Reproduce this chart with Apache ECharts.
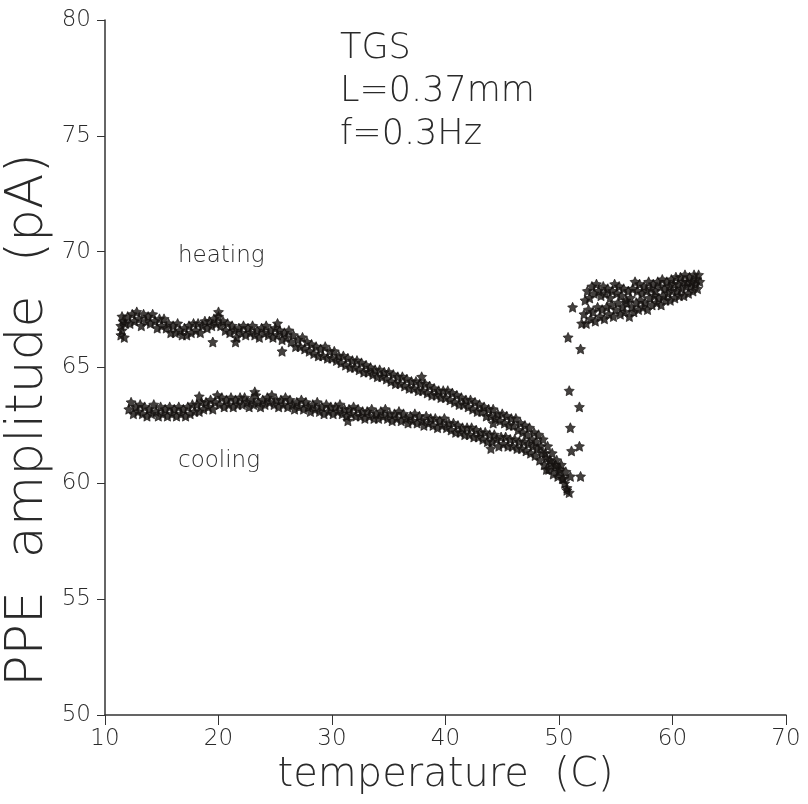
<!DOCTYPE html>
<html style="height: 100%">
<head>
    <meta charset="utf-8">
    <title>TGS PPE amplitude</title>
    <script src="https://cdn.jsdelivr.net/npm/echarts@6/dist/echarts.min.js"></script>
</head>
<body style="height: 100%; margin: 0; background: #fff">
    <div id="container" style="width: 808px; height: 804px"></div>
    <script type="text/javascript">
        // axis ticks
        var xTicks = [10, 20, 30, 40, 50, 60, 70];
        var yTicks = [50, 55, 60, 65, 70, 75, 80];

        // heating run: [temperature C, PPE amplitude pA]
        var heatingBelow = [
            [11.4,66.4],[11.4,66.8],[11.5,67.2],[11.5,66.6],[11.6,67.0],[11.7,66.3],[11.8,66.9],
            [12.0,67.2],[12.2,66.9],[12.4,67.3],[12.6,67.0],[12.8,67.4],[13.0,67.1],[13.2,66.8],[13.4,67.3],
            [13.6,67.0],[13.8,67.2],[14.0,66.9],[14.2,67.3],[14.4,67.0],[14.6,66.7],[14.8,67.1],[15.0,66.8],
            [15.2,67.1],[15.4,66.7],[15.6,66.9],[15.8,66.5],[16.0,66.8],[16.2,66.5],[16.4,66.9],[16.6,66.6],
            [16.8,66.4],[17.0,66.7],[17.2,66.4],[17.4,66.8],[17.6,66.5],[17.8,66.9],[18.0,66.6],[18.2,66.9],
            [18.4,66.5],[18.6,66.8],[18.8,67.0],[19.0,66.7],[19.2,67.0],[19.4,66.8],[19.6,67.1],[19.8,66.9],
            [20.0,67.2],[20.2,66.8],[20.4,67.0],[20.6,66.6],[20.8,66.9],[21.0,66.5],[21.2,66.8],[21.4,66.6],
            [21.6,66.3],[21.8,66.7],[22.0,66.5],[22.2,66.8],[22.4,66.4],[22.6,66.7],[22.8,66.5],[23.0,66.8],
            [23.2,66.4],[23.4,66.6],[23.6,66.3],[23.8,66.7],[24.0,66.5],[24.2,66.8],[24.4,66.4],[24.6,66.6],
            [24.8,66.3],[25.0,66.7],[25.2,66.4],[25.4,66.6],[25.6,66.2],[25.8,66.5],[26.0,66.3],[26.2,66.6],
            [26.4,66.1],[26.6,66.4],[26.8,65.9],[27.0,66.2],[27.2,65.9],[27.4,66.3],[27.6,65.8],[27.8,66.1],
            [28.0,65.7],[28.2,66.0],[28.4,65.6],[28.6,65.9],[28.8,65.5],[29.0,65.8],[29.2,65.5],[29.4,65.9],
            [29.6,65.4],[29.8,65.7],[30.0,65.4],[30.2,65.7],[30.4,65.3],[30.6,65.5],[30.8,65.2],[31.0,65.5],
            [31.2,65.1],[31.4,65.4],[31.6,65.0],[31.8,65.3],[32.0,65.0],[32.2,65.3],[32.4,64.9],[32.6,65.2],
            [32.8,64.8],[33.0,65.1],[33.2,64.8],[33.4,65.0],[33.6,64.7],[33.8,64.9],[34.0,64.6],[34.2,64.9],
            [34.4,64.6],[34.6,64.8],[34.8,64.5],[35.0,64.8],[35.2,64.4],[35.4,64.7],[35.6,64.3],[35.8,64.6],
            [36.0,64.3],[36.2,64.6],[36.4,64.2],[36.6,64.5],[36.8,64.1],[37.0,64.4],[37.2,64.1],[37.4,64.4],
            [37.6,64.0],[37.8,64.3],[38.0,64.0],[38.2,64.3],[38.4,63.9],[38.6,64.2],[38.8,63.8],[39.0,64.1],
            [39.2,63.8],[39.4,64.0],[39.6,63.7],[39.8,64.0],[40.0,63.7],[40.2,64.0],[40.4,63.6],[40.6,63.9],
            [40.8,63.5],[41.0,63.8],[41.2,63.4],[41.4,63.7],[41.6,63.4],[41.8,63.6],[42.0,63.3],[42.2,63.6],
            [42.4,63.2],[42.6,63.5],[42.8,63.1],[43.0,63.4],[43.2,63.1],[43.4,63.3],[43.6,62.9],[43.8,63.2],
            [44.0,62.9],[44.2,63.2],[44.4,62.8],[44.6,63.0],[44.8,62.7],[45.0,63.0],[45.2,62.6],[45.4,62.9],
            [45.6,62.5],[45.8,62.8],[46.0,62.5],[46.2,62.8],[46.4,62.3],[46.6,62.6],[46.8,62.2],[47.0,62.5],
            [47.2,62.1],[47.4,62.4],[47.6,61.9],[47.8,62.2],[48.0,61.8],[48.2,62.1],[48.4,61.6],[48.6,61.9],
            [48.8,61.3],[49.0,61.6],[49.2,61.0],[49.4,61.3],[49.6,60.7],[49.8,61.0],[50.0,60.5],[50.2,60.8],
            [50.4,60.2],[50.6,60.5],
            // stray readings off the band
            [19.5,66.1],[21.5,66.1],[25.6,65.7],[20.0,67.4],[25.2,66.9],[37.9,64.6],[44.2,62.6]
        ];
        var heatingJump = [
            [50.7,59.8],[50.9,59.6],[51.0,60.3],[51.1,61.4],[51.0,62.4],[50.9,64.0],[50.8,66.3],[51.2,67.6]
        ];
        var heatingAbove = [
            [52.2,67.3],[52.4,66.9],[52.6,67.5],[52.8,67.1],[53.0,67.4],[53.2,67.0],[53.4,67.6],[53.6,67.2],
            [53.8,67.5],[54.0,67.1],[54.2,67.6],[54.4,67.3],[54.6,67.7],[54.8,67.2],[55.0,67.5],[55.2,67.8],
            [55.4,67.3],[55.6,67.6],[55.8,67.4],[56.0,67.8],[56.2,67.2],[56.4,67.6],[56.6,67.4],[56.8,67.8],
            [57.0,67.5],[57.2,67.9],[57.4,67.6],[57.6,67.8],[57.8,67.5],[58.0,68.0],[58.2,67.7],[58.4,68.1],
            [58.6,67.8],[58.8,68.0],[59.0,67.7],[59.2,68.1],[59.4,67.9],[59.6,68.2],[59.8,67.9],[60.0,68.3],
            [60.2,68.0],[60.4,68.3],[60.6,68.1],[60.8,68.4],[61.0,68.1],[61.2,68.5],[61.4,68.2],[61.6,68.5],
            [61.8,68.3],[62.0,68.6],[62.2,68.4],[62.4,68.7]
        ];

        // cooling run
        var coolingBelow = [
            [12.1,63.2],[12.3,63.5],[12.5,63.0],[12.7,63.3],[12.9,63.1],[13.1,63.4],[13.3,63.0],[13.5,63.3],
            [13.7,62.9],[13.9,63.2],[14.1,63.0],[14.3,63.4],[14.5,63.1],[14.7,62.9],[14.9,63.3],[15.1,63.0],
            [15.3,63.2],[15.5,62.9],[15.7,63.3],[15.9,63.0],[16.1,63.2],[16.3,62.9],[16.5,63.3],[16.7,63.0],
            [16.9,63.2],[17.1,62.9],[17.3,63.3],[17.5,63.0],[17.7,63.4],[17.9,63.1],[18.1,63.4],[18.3,63.1],
            [18.5,63.5],[18.7,63.2],[18.9,63.5],[19.1,63.3],[19.3,63.6],[19.5,63.2],[19.7,63.5],[19.9,63.8],
            [20.1,63.4],[20.3,63.7],[20.5,63.3],[20.7,63.6],[20.9,63.4],[21.1,63.7],[21.3,63.3],[21.5,63.6],
            [21.7,63.4],[21.9,63.7],[22.1,63.4],[22.3,63.7],[22.5,63.5],[22.7,63.3],[22.9,63.6],[23.1,63.4],
            [23.3,63.8],[23.5,63.5],[23.7,63.3],[23.9,63.6],[24.1,63.4],[24.3,63.7],[24.5,63.5],[24.7,63.8],
            [24.9,63.4],[25.1,63.6],[25.3,63.3],[25.5,63.6],[25.7,63.4],[25.9,63.7],[26.1,63.3],[26.3,63.6],
            [26.5,63.4],[26.7,63.2],[26.9,63.5],[27.1,63.3],[27.3,63.6],[27.5,63.2],[27.7,63.5],[27.9,63.3],
            [28.1,63.1],[28.3,63.4],[28.5,63.2],[28.7,63.5],[28.9,63.1],[29.1,63.3],[29.3,63.0],[29.5,63.4],
            [29.7,63.1],[29.9,63.3],[30.1,63.0],[30.3,63.3],[30.5,63.1],[30.7,63.4],[30.9,63.0],[31.1,63.2],
            [31.3,62.9],[31.5,63.2],[31.7,63.0],[31.9,63.3],[32.1,62.9],[32.3,63.2],[32.5,62.9],[32.7,63.1],
            [32.9,62.8],[33.1,63.1],[33.3,62.9],[33.5,63.2],[33.7,62.8],[33.9,63.0],[34.1,62.8],[34.3,63.1],
            [34.5,62.9],[34.7,63.2],[34.9,62.8],[35.1,63.0],[35.3,62.7],[35.5,63.0],[35.7,62.8],[35.9,63.1],
            [36.1,62.7],[36.3,63.0],[36.5,62.8],[36.7,62.6],[36.9,62.9],[37.1,62.7],[37.3,63.0],[37.5,62.6],
            [37.7,62.9],[37.9,62.7],[38.1,62.5],[38.3,62.9],[38.5,62.6],[38.7,62.8],[38.9,62.5],[39.1,62.8],
            [39.3,62.4],[39.5,62.7],[39.7,62.5],[39.9,62.8],[40.1,62.4],[40.3,62.6],[40.5,62.3],[40.7,62.6],
            [40.9,62.2],[41.1,62.5],[41.3,62.2],[41.5,62.4],[41.7,62.1],[41.9,62.4],[42.1,62.1],[42.3,62.4],
            [42.5,62.0],[42.7,62.3],[42.9,62.0],[43.1,62.2],[43.3,61.9],[43.5,62.2],[43.7,61.8],[43.9,62.1],
            [44.1,61.8],[44.3,62.1],[44.5,61.9],[44.7,61.6],[44.9,62.0],[45.1,61.7],[45.3,62.0],[45.5,61.6],
            [45.7,61.9],[45.9,61.6],[46.1,61.9],[46.3,61.5],[46.5,61.8],[46.7,61.5],[46.9,61.8],[47.1,61.4],
            [47.3,61.7],[47.5,61.3],[47.7,61.6],[47.9,61.2],[48.1,61.5],[48.3,61.0],[48.5,61.3],[48.7,60.8],
            [48.9,61.1],[49.1,60.6],[49.3,60.9],[49.5,60.4],[49.7,60.8],[49.9,60.3],[50.1,60.6],[50.3,60.2],
            [50.5,60.0],[50.7,59.7],
            // stray readings off the band
            [18.3,63.75],[23.2,63.95],[31.4,62.7],[44.0,61.5],[48.9,60.6]
        ];
        var coolingJump = [
            [51.9,60.3],[51.8,61.6],[51.8,63.3],[51.9,65.8],[52.0,66.9]
        ];
        var coolingAbove = [
            [52.3,67.9],[52.5,68.3],[52.7,68.0],[52.9,68.5],[53.1,68.2],[53.3,68.6],[53.5,68.3],[53.7,68.1],
            [53.9,68.5],[54.1,68.2],[54.3,68.4],[54.5,68.0],[54.7,68.3],[54.9,68.6],[55.1,68.2],[55.3,68.5],
            [55.5,68.1],[55.7,68.4],[55.9,67.9],[56.1,68.3],[56.3,68.0],[56.5,68.4],[56.7,68.7],[56.9,68.3],
            [57.1,68.6],[57.3,68.2],[57.5,68.5],[57.7,68.3],[57.9,68.7],[58.1,68.4],[58.3,68.6],[58.5,68.3],
            [58.7,68.7],[58.9,68.5],[59.1,68.8],[59.3,68.4],[59.5,68.7],[59.7,68.5],[59.9,68.8],[60.1,68.6],
            [60.3,68.9],[60.5,68.6],[60.7,68.9],[60.9,68.7],[61.1,69.0],[61.3,68.7],[61.5,68.9],[61.7,68.7],
            [61.9,69.0],[62.1,68.8],[62.3,69.0]
        ];

        var dom     = document.getElementById("container");
        var myChart = echarts.init(dom);
        var ink     = '#15120f';
        var textInk = '#2a2a2a';
        var font    = "'DejaVu Sans', sans-serif";
        var star    = 'path://M0,-10 L2.9,-4 9.5,-3.1 4.7,1.5 5.9,8.1 0,5 -5.9,8.1 -4.7,1.5 -9.5,-3.1 -2.9,-4 Z';

        option = {
            animation: false,
            backgroundColor: '#fff',
            grid: {
                left:   105,
                right:  22,
                top:    20,
                bottom: 89,
                containLabel: false,
                outerBoundsMode: 'none'
            },
            xAxis: {
                type: 'value',
                min: xTicks[0],
                max: xTicks[xTicks.length - 1],
                interval: 10,
                name: 'temperature  (C)',
                nameLocation: 'middle',
                nameGap: 36,
                nameTextStyle: {fontSize: 40, fontFamily: font, fontWeight: 200, color: textInk},
                axisLine:  {lineStyle: {color: '#333', width: 1.5}},
                axisTick:  {length: 10, lineStyle: {color: '#333'}},
                axisLabel: {fontSize: 23, fontFamily: font, fontWeight: 200, color: textInk, margin: 13},
                splitLine: {show: false}
            },
            yAxis: {
                type: 'value',
                min: yTicks[0],
                max: yTicks[yTicks.length - 1],
                interval: 5,
                axisLine:  {show: true, lineStyle: {color: '#333', width: 1.5}},
                axisTick:  {show: true, length: 8, lineStyle: {color: '#333'}},
                axisLabel: {fontSize: 23, fontFamily: font, fontWeight: 200, color: textInk, margin: 14},
                splitLine: {show: false}
            },
            graphic: [{
                type: 'text',
                x: 28,
                y: 420,
                rotation: Math.PI / 2,
                style: {
                    text: 'PPE  amplitude  (pA)',
                    fontSize: 52,
                    fontFamily: font,
                    fontWeight: 200,
                    fill: textInk,
                    textAlign: 'center',
                    textVerticalAlign: 'middle'
                }
            }, {
                type: 'text',
                x: 340,
                y: 27,
                style: {
                    text: 'TGS\nL=0.37mm\nf=0.3Hz',
                    fontSize: 35,
                    lineHeight: 43,
                    fontFamily: font,
                    fontWeight: 200,
                    fill: textInk
                }
            }, {
                type: 'text',
                x: 178,
                y: 245,
                style: {text: 'heating', fontSize: 23, fontFamily: font, fontWeight: 200, fill: textInk}
            }, {
                type: 'text',
                x: 178,
                y: 450,
                style: {text: 'cooling', fontSize: 23, fontFamily: font, fontWeight: 200, fill: textInk}
            }],
            series: [{
                name: 'heating',
                type: 'scatter',
                symbol: star,
                symbolSize: 10,
                itemStyle: {color: ink, borderColor: ink, borderWidth: 0.8},
                data: heatingBelow.concat(heatingJump, heatingAbove)
            }, {
                name: 'cooling',
                type: 'scatter',
                symbol: star,
                symbolSize: 10,
                itemStyle: {color: ink, borderColor: ink, borderWidth: 0.8},
                data: coolingBelow.concat(coolingJump, coolingAbove)
            }]
        };

        if (option && typeof option === "object") {
            myChart.setOption(option, true);
        }
    </script>
</body>
</html>
